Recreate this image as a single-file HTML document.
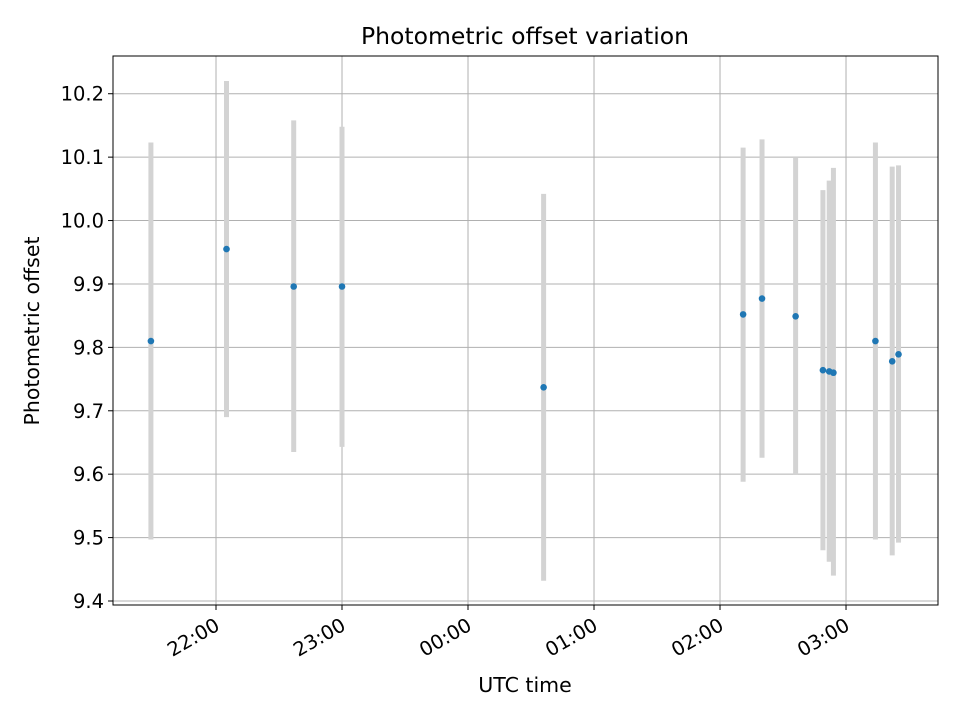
<!DOCTYPE html>
<html><head><meta charset="utf-8">
<style>
body{margin:0;background:#fff;font-family:"Liberation Sans","DejaVu Sans",sans-serif;}
svg text{font-family:"DejaVu Sans","Liberation Sans",sans-serif;}
</style></head>
<body>
<svg id="chart" width="960" height="720" xmlns="http://www.w3.org/2000/svg">
<rect width="960" height="720" fill="#fff"/>
<text x="525" y="44" text-anchor="middle" font-size="23.5">Photometric offset variation</text>
<g id="grid"></g>
<g id="bars"></g>
<g id="points"></g>
<rect x="113" y="56" width="825" height="549" fill="none" stroke="#000" stroke-width="1"/>
<g id="axes"></g>
<text x="525" y="692" text-anchor="middle" font-size="20.5">UTC time</text>
<text x="39" y="331" text-anchor="middle" font-size="20.5" transform="rotate(-90 39 331)">Photometric offset</text>
</svg>
<script>
const times = ["21:29","22:05","22:37","23:00","00:36","02:11","02:20","02:36","02:49","02:52","02:54","03:14","03:22","03:25"];
const offsets = [9.81,9.955,9.896,9.896,9.737,9.852,9.877,9.849,9.764,9.762,9.760,9.81,9.778,9.789];
const errLow = [9.497,9.69,9.635,9.643,9.432,9.588,9.626,9.60,9.48,9.462,9.44,9.497,9.472,9.492];
const errHigh = [10.123,10.22,10.158,10.148,10.042,10.115,10.128,10.10,10.048,10.063,10.083,10.123,10.085,10.087];
const xTicks = ["22:00","23:00","00:00","01:00","02:00","03:00"];
const yTicks = [9.4,9.5,9.6,9.7,9.8,9.9,10.0,10.1,10.2];

const NS="http://www.w3.org/2000/svg";
function hrs(t){let [h,m]=t.split(":").map(Number);let v=h+m/60;if(h<12)v+=24;return v;}
const X0=113,X1=938,Y0=56,Y1=605;
const xMin=21.1825,xMax=27.730;
const yMin=9.3937,yMax=10.2595;
function xs(t){return X0+(hrs(t)-xMin)/(xMax-xMin)*(X1-X0);}
function ys(v){return Y1-(v-yMin)/(yMax-yMin)*(Y1-Y0);}
function mk(tag,attrs,parent){const e=document.createElementNS(NS,tag);for(const k in attrs)e.setAttribute(k,attrs[k]);parent.appendChild(e);return e;}
const grid=document.getElementById('grid'),axes=document.getElementById('axes');
xTicks.forEach(t=>{
  const x=xs(t);
  const g=mk('line',{x1:x,x2:x,y1:Y0,y2:Y1,stroke:'#b0b0b0','stroke-width':1},grid);
  
  
  const tk=mk('line',{x1:x,x2:x,y1:Y1,y2:Y1+5,stroke:'#000','stroke-width':1},axes);
  
  
  const lb=mk('text',{x:x+5,y:Y1+24,'text-anchor':'end','font-size':19.5,transform:`rotate(-30 ${x+5} ${Y1+24})`},axes);
  lb.textContent=t;
  
  
});
yTicks.forEach(v=>{
  const y=ys(v);
  const g=mk('line',{x1:X0,x2:X1,y1:y,y2:y,stroke:'#b0b0b0','stroke-width':1},grid);
  
  
  const tk=mk('line',{x1:X0-5,x2:X0,y1:y,y2:y,stroke:'#000','stroke-width':1},axes);
  
  
  const lb=mk('text',{x:X0-9,y:y+7,'text-anchor':'end','font-size':19.5},axes);
  lb.textContent=v.toFixed(1);
  
  
});
const bars=document.getElementById('bars'),pts=document.getElementById('points');
times.forEach((t,i)=>{
  const x=xs(t);
  const b=mk('line',{x1:x,x2:x,y1:ys(errLow[i]),y2:ys(errHigh[i]),stroke:'#d3d3d3','stroke-width':5},bars);
  
  
  const p=mk('circle',{cx:x,cy:ys(offsets[i]),r:3.3,fill:'#1f77b4'},pts);
  
  
});
</script>
</body></html>
